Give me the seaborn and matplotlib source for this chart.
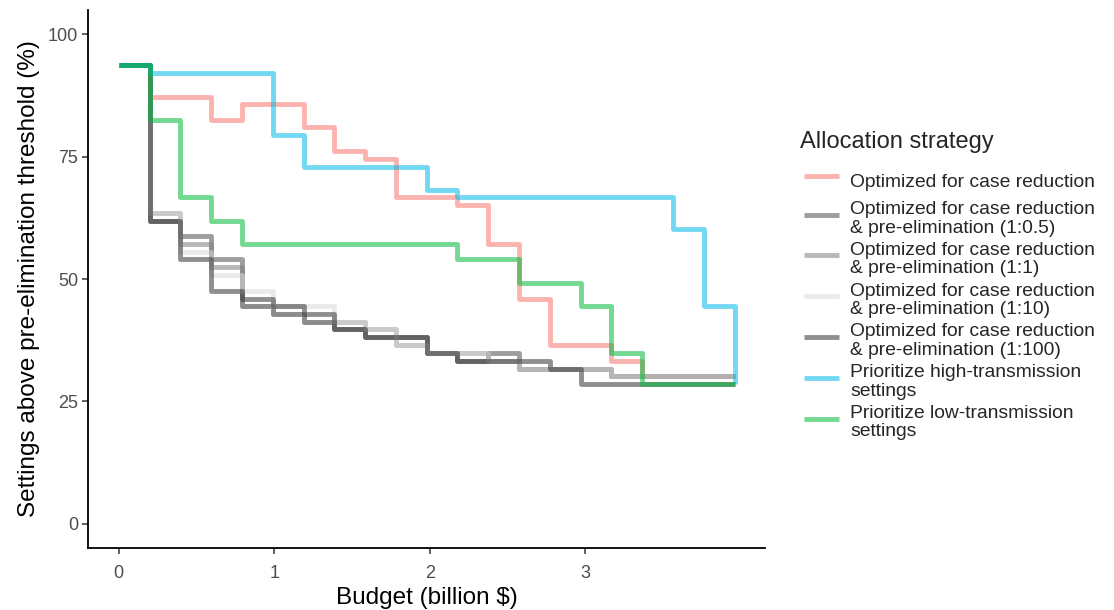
import matplotlib
matplotlib.use("Agg")
import matplotlib.pyplot as plt
import seaborn as sns
import pandas as pd

budget = [0.0, 0.198, 0.396, 0.594, 0.792, 0.99, 1.188, 1.386, 1.584, 1.782, 1.98,
          2.178, 2.376, 2.574, 2.772, 2.97, 3.168, 3.366, 3.564, 3.762, 3.96]

case_reduction = [93.7, 87.3, 87.3, 82.5, 85.7, 85.7, 81.0, 76.2, 74.6, 66.7, 66.7,
                  65.1, 57.1, 46.0, 36.5, 36.5, 33.3, 30.2, 30.2, 30.2, 30.2]
pre_elim_0_5 = [93.7, 61.9, 58.7, 54.0, 44.4, 42.9, 41.3, 39.7, 38.1, 38.1, 34.9,
                33.3, 34.9, 31.7, 31.7, 31.7, 30.2, 30.2, 30.2, 30.2, 30.2]
pre_elim_1 = [93.7, 63.5, 57.1, 52.4, 44.4, 42.9, 41.3, 41.3, 39.7, 36.5, 34.9,
              34.9, 33.3, 31.7, 31.7, 31.7, 30.2, 30.2, 30.2, 30.2, 30.2]
pre_elim_10 = [93.7, 63.5, 55.6, 50.8, 47.6, 44.4, 44.4, 41.3, 39.7, 36.5, 34.9,
               34.9, 33.3, 31.7, 31.7, 31.7, 30.2, 30.2, 30.2, 30.2, 30.2]
pre_elim_100 = [93.7, 61.9, 54.0, 47.6, 46.0, 44.4, 42.9, 39.7, 38.1, 38.1, 34.9,
                33.3, 33.3, 33.3, 31.7, 28.6, 28.6, 28.6, 28.6, 28.6, 28.6]
high_trans = [93.7, 92.1, 92.1, 92.1, 92.1, 79.4, 73.0, 73.0, 73.0, 73.0, 68.3,
              66.7, 66.7, 66.7, 66.7, 66.7, 66.7, 66.7, 60.3, 44.4, 28.6]
low_trans = [93.7, 82.5, 66.7, 61.9, 57.1, 57.1, 57.1, 57.1, 57.1, 57.1, 57.1,
             54.0, 54.0, 49.2, 49.2, 44.4, 34.9, 28.6, 28.6, 28.6, 28.6]

strategies = [
    "Optimized for case reduction",
    "Optimized for case reduction\n& pre-elimination (1:0.5)",
    "Optimized for case reduction\n& pre-elimination (1:1)",
    "Optimized for case reduction\n& pre-elimination (1:10)",
    "Optimized for case reduction\n& pre-elimination (1:100)",
    "Prioritize high-transmission\nsettings",
    "Prioritize low-transmission\nsettings",
]
series = [case_reduction, pre_elim_0_5, pre_elim_1, pre_elim_10, pre_elim_100,
          high_trans, low_trans]
colors = ["#F8766D", "#4D4D4D", "#7F7F7F", "#D9D9D9", "#333333", "#00B8E7", "#00BA38"]

x_ticks = [0, 1, 2, 3]
y_ticks = [0, 25, 50, 75, 100]

rows = []
for name, vals in zip(strategies, series):
    for b, v in zip(budget, vals):
        rows.append({"Budget": b, "Value": v, "Strategy": name})
df = pd.DataFrame(rows)

sns.set_theme(style="ticks")
plt.rcParams["font.family"] = ["Liberation Sans", "DejaVu Sans"]

fig = plt.figure(figsize=(11.14, 6.10), dpi=100)
ax = fig.add_axes([0.079, 0.1016, 0.608, 0.882])

for name, col in zip(strategies, colors):
    sub = df[df["Strategy"] == name]
    sns.lineplot(data=sub, x="Budget", y="Value", ax=ax, color=col, alpha=0.55,
                 lw=3, drawstyle="steps-post", label=name, legend=False,
                 solid_capstyle="butt", estimator=None, sort=True)

ax.set_xlim(-0.198, 4.158)
ax.set_ylim(-5, 105)
ax.set_xticks(x_ticks)
ax.set_xticklabels([str(t) for t in x_ticks])
ax.set_yticks(y_ticks)
ax.set_yticklabels([str(t) for t in y_ticks])
ax.tick_params(axis="both", labelsize=13, labelcolor="#4D4D4D", length=4,
               width=1.1, color="#333333", direction="out", pad=3)
ax.tick_params(axis="x", pad=8)
for s in ["left", "bottom"]:
    ax.spines[s].set_linewidth(1.3)
    ax.spines[s].set_color("black")
sns.despine(ax=ax)
ax.set_xlabel("Budget (billion $)", fontsize=17.5, color="black", labelpad=4)
ax.set_ylabel("Settings above pre-elimination threshold (%)", fontsize=17.5,
              color="black", labelpad=6)

handles, labels = ax.get_legend_handles_labels()
for h in handles:
    h.set_linewidth(3.5)
fig.text(0.718, 0.767, "Allocation strategy", fontsize=17, ha="left", va="center")
leg = fig.legend(handles, labels, loc="upper left", bbox_to_anchor=(0.7215, 0.728),
                 frameon=False, fontsize=13.9, labelspacing=0.27, handlelength=1.85,
                 handletextpad=0.55, handleheight=2.0, borderpad=0, borderaxespad=0)
for t in leg.get_texts():
    t.set_linespacing(1.12)

fig.savefig("out.png", dpi=100)
